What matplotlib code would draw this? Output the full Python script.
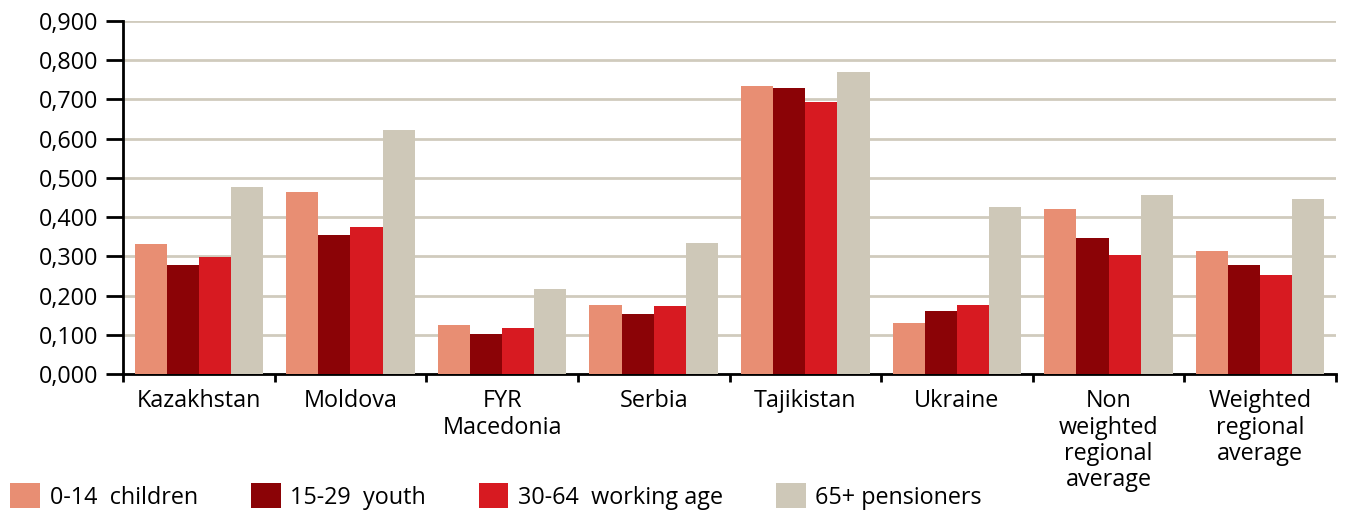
import matplotlib
matplotlib.use("Agg")
import matplotlib.pyplot as plt
import numpy as np
from matplotlib.ticker import FuncFormatter, FixedLocator

plt.rcParams['font.family'] = ['Open Sans', 'DejaVu Sans']

categories = ["Kazakhstan", "Moldova", "FYR\nMacedonia", "Serbia", "Tajikistan",
              "Ukraine", "Non\nweighted\nregional\naverage", "Weighted\nregional\naverage"]
series_names = ["0-14  children", "15-29  youth", "30-64  working age", "65+ pensioners"]
children = [0.331, 0.464, 0.124, 0.175, 0.734, 0.129, 0.420, 0.313]
youth = [0.277, 0.354, 0.101, 0.152, 0.729, 0.160, 0.346, 0.277]
working_age = [0.298, 0.374, 0.117, 0.173, 0.694, 0.175, 0.303, 0.252]
pensioners = [0.477, 0.622, 0.216, 0.334, 0.770, 0.426, 0.456, 0.446]
colors = ["#E88E73", "#8B0306", "#D71A21", "#CEC8B8"]

FS = 16.8

fig = plt.figure(figsize=(13.45, 5.12), dpi=100)
ax = fig.add_axes([0.0915, 0.2695, 0.9018, 0.6895])

x = np.arange(len(categories))
w = 0.212
for i, (vals, name, c) in enumerate(zip([children, youth, working_age, pensioners], series_names, colors)):
    ax.bar(x + (i - 1.5) * w, vals, width=w, color=c, label=name, zorder=3, linewidth=0)

ax.set_xlim(-0.5, len(categories) - 0.5)
ax.set_ylim(0, 0.9)
ax.set_yticks(np.arange(0, 0.91, 0.1))
ax.yaxis.set_major_formatter(FuncFormatter(lambda v, p: f"{v:.3f}".replace('.', ',')))
ax.grid(axis='y', color='#D0CBBD', linewidth=2.0, zorder=0)
ax.set_axisbelow(True)

for s in ['top', 'right']:
    ax.spines[s].set_visible(False)
for s in ['left', 'bottom']:
    ax.spines[s].set_linewidth(2.0)
    ax.spines[s].set_color('black')

ax.tick_params(axis='y', direction='out', length=12, width=2.0, pad=6, labelsize=FS, colors='black')
ax.set_xticks(x)
ax.set_xticklabels(categories, fontsize=FS, linespacing=1.13)
ax.tick_params(axis='x', which='major', length=0, pad=11)
ax.xaxis.set_minor_locator(FixedLocator(np.arange(-0.5, len(categories), 1.0)))
ax.tick_params(axis='x', which='minor', direction='out', length=6, width=2.0)

fig.legend(loc='lower left', bbox_to_anchor=(0.006, 0.0), ncol=4, frameon=False,
           fontsize=FS, handlelength=1.28, handleheight=1.28, handletextpad=0.42,
           columnspacing=2.25, borderaxespad=0.0, borderpad=0.1)

fig.savefig("out.png", dpi=100)
